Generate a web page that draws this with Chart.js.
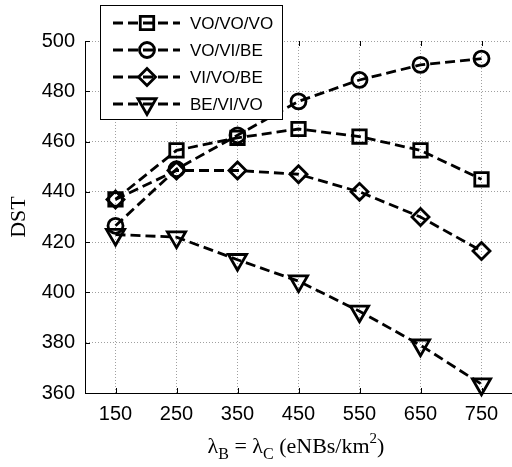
<!DOCTYPE html>
<html>
<head>
<meta charset="utf-8">
<script src="https://cdn.jsdelivr.net/npm/chart.js@4.4.1/dist/chart.umd.min.js"></script>
<style>
  html,body{margin:0;padding:0;background:#fff}
  #wrap{width:512px;height:467px;position:relative}
</style>
</head>
<body>
<div id="wrap"><canvas id="c"></canvas></div>
<script>
// data
const xValues = [150, 250, 350, 450, 550, 650, 750]
const yTicks = [360, 380, 400, 420, 440, 460, 480, 500]
const seriesNames = ['VO/VO/VO', 'VO/VI/BE', 'VI/VO/BE', 'BE/VI/VO']
const voVoVo = [437, 456.5, 461.5, 465, 462, 456.5, 445]
const voViBe = [426.5, 449, 462.5, 476, 484.5, 490.5, 493]
const viVoBe = [437, 448.5, 448.5, 447, 440, 430, 416.5]
const beViVo = [423, 422, 413, 404.5, 392.5, 379, 363.5]

const markers = [
  { style:'rect', r:9.5, rot:0 },
  { style:'circle', r:7.5, rot:0 },
  { style:'rectRot', r:8.5, rot:0 },
  { style:'triangle', r:10.5, rot:180 },
]
const allSeries = [voVoVo, voViBe, viVoBe, beViVo]

const SANS = "'Liberation Sans', Arial, sans-serif"
const SERIF = "'Liberation Serif', 'Times New Roman', serif"
const LW = 2.8

function drawMarker(ctx, m, x, y) {
  ctx.save()
  ctx.lineWidth = LW
  ctx.strokeStyle = '#000'
  ctx.beginPath()
  if (m.style === 'rect') {
    const s = Math.SQRT1_2 * m.r
    ctx.rect(x - s, y - s, 2 * s, 2 * s)
  } else if (m.style === 'circle') {
    ctx.arc(x, y, m.r, 0, Math.PI * 2)
  } else if (m.style === 'rectRot') {
    ctx.moveTo(x, y - m.r); ctx.lineTo(x + m.r, y); ctx.lineTo(x, y + m.r); ctx.lineTo(x - m.r, y); ctx.closePath()
  } else {
    let a = Math.PI
    ctx.moveTo(x + Math.sin(a) * m.r, y - Math.cos(a) * m.r)
    a += 2 * Math.PI / 3
    ctx.lineTo(x + Math.sin(a) * m.r, y - Math.cos(a) * m.r)
    a += 2 * Math.PI / 3
    ctx.lineTo(x + Math.sin(a) * m.r, y - Math.cos(a) * m.r)
    ctx.closePath()
  }
  ctx.stroke()
  ctx.restore()
}

// inward tick marks, axis titles and the boxed legend
const decor = {
  id:'decor',
  afterDraw(chart) {
    const { ctx, chartArea:a, scales:{ x, y } } = chart
    ctx.save()
    ctx.strokeStyle = '#000'
    ctx.lineWidth = 1
    ctx.beginPath()
    xValues.forEach(v => {
      const px = Math.round(x.getPixelForValue(v)) + 0.5
      ctx.moveTo(px, a.bottom); ctx.lineTo(px, a.bottom - 5)
      ctx.moveTo(px, a.top); ctx.lineTo(px, a.top + 5)
    })
    yTicks.forEach(v => {
      const py = Math.round(y.getPixelForValue(v)) + 0.5
      ctx.moveTo(a.left, py); ctx.lineTo(a.left + 5, py)
    })
    ctx.stroke()

    // y title
    ctx.fillStyle = '#000'
    ctx.font = `22px ${SERIF}`
    ctx.textAlign = 'center'
    ctx.textBaseline = 'alphabetic'
    ctx.save()
    ctx.translate(25, (a.top + a.bottom) / 2)
    ctx.rotate(-Math.PI / 2)
    ctx.fillText('DST', 0, 0)
    ctx.restore()

    // x title with sub/superscripts
    const parts = [
      { t:'λ', f:22, dy:0 }, { t:'B', f:16, dy:6 },
      { t:' = λ', f:22, dy:0 }, { t:'C', f:16, dy:6 },
      { t:' (eNBs/km', f:22, dy:0 }, { t:'2', f:15, dy:-10 },
      { t:')', f:22, dy:0 },
    ]
    ctx.textAlign = 'left'
    let w = 0
    parts.forEach(p => { ctx.font = `${p.f}px ${SERIF}`; p.w = ctx.measureText(p.t).width; w += p.w })
    let cx = 296 - w / 2
    parts.forEach(p => { ctx.font = `${p.f}px ${SERIF}`; ctx.fillText(p.t, cx, 453 + p.dy); cx += p.w })

    // legend
    const L = { x:100, y:5, w:182, h:114 }
    ctx.fillStyle = '#fff'
    ctx.fillRect(L.x, L.y, L.w, L.h)
    ctx.strokeStyle = '#000'
    ctx.lineWidth = 1
    ctx.strokeRect(L.x + 0.5, L.y + 0.5, L.w, L.h)
    seriesNames.forEach((name, i) => {
      const ry = 23 + i * 27
      ctx.save()
      ctx.strokeStyle = '#000'
      ctx.lineWidth = LW
      ctx.setLineDash([10, 5])
      ctx.beginPath()
      ctx.moveTo(113, ry); ctx.lineTo(180, ry)
      ctx.stroke()
      ctx.restore()
      drawMarker(ctx, markers[i], 147, ry)
      ctx.fillStyle = '#000'
      ctx.font = `17px ${SANS}`
      ctx.textBaseline = 'middle'
      ctx.fillText(name, 190, ry + 1)
    })
    ctx.restore()
  }
}

new Chart(document.getElementById('c'), {
  type:'line',
  data:{
    datasets: allSeries.map((vals, i) => ({
      label: seriesNames[i],
      data: vals.map((v, j) => ({ x:xValues[j], y:v })),
      borderColor:'#000', borderWidth:LW, borderDash:[10, 5],
      backgroundColor:'transparent', fill:false, tension:0,
      pointStyle: markers[i].style, pointRadius: markers[i].r, pointRotation: markers[i].rot,
      pointBorderColor:'#000', pointBackgroundColor:'rgba(0,0,0,0)', pointBorderWidth:LW,
      clip:false,
    }))
  },
  options:{
    responsive:true, maintainAspectRatio:false, animation:false,
    layout:{ autoPadding:false, padding:{ top:41, right:0, left:0, bottom:0 } },
    plugins:{ legend:{ display:false }, tooltip:{ enabled:false } },
    scales:{
      x:{
        type:'linear', min:100, max:800,
        afterBuildTicks: s => { s.ticks = xValues.map(v => ({ value:v })) },
        afterFit: s => { s.height = 74; s.paddingLeft = 0; s.paddingRight = 0 },
        grid:{ color:'#a0a0a0', lineWidth:1, drawTicks:false },
        border:{ display:true, color:'#000', width:1, dash:[1, 2] },
        ticks:{ color:'#000', padding:9, font:{ family:SANS, size:20 }, maxRotation:0 },
      },
      y:{
        min:360, max:500,
        afterBuildTicks: s => { s.ticks = yTicks.map(v => ({ value:v })) },
        afterFit: s => { s.width = 85; s.paddingTop = 0; s.paddingBottom = 0 },
        grid:{ color:'#a0a0a0', lineWidth:1, drawTicks:false },
        border:{ display:true, color:'#000', width:1, dash:[1, 2] },
        ticks:{ color:'#000', padding:10, font:{ family:SANS, size:20 } },
      }
    }
  },
  plugins:[decor]
})
</script>
</body>
</html>
